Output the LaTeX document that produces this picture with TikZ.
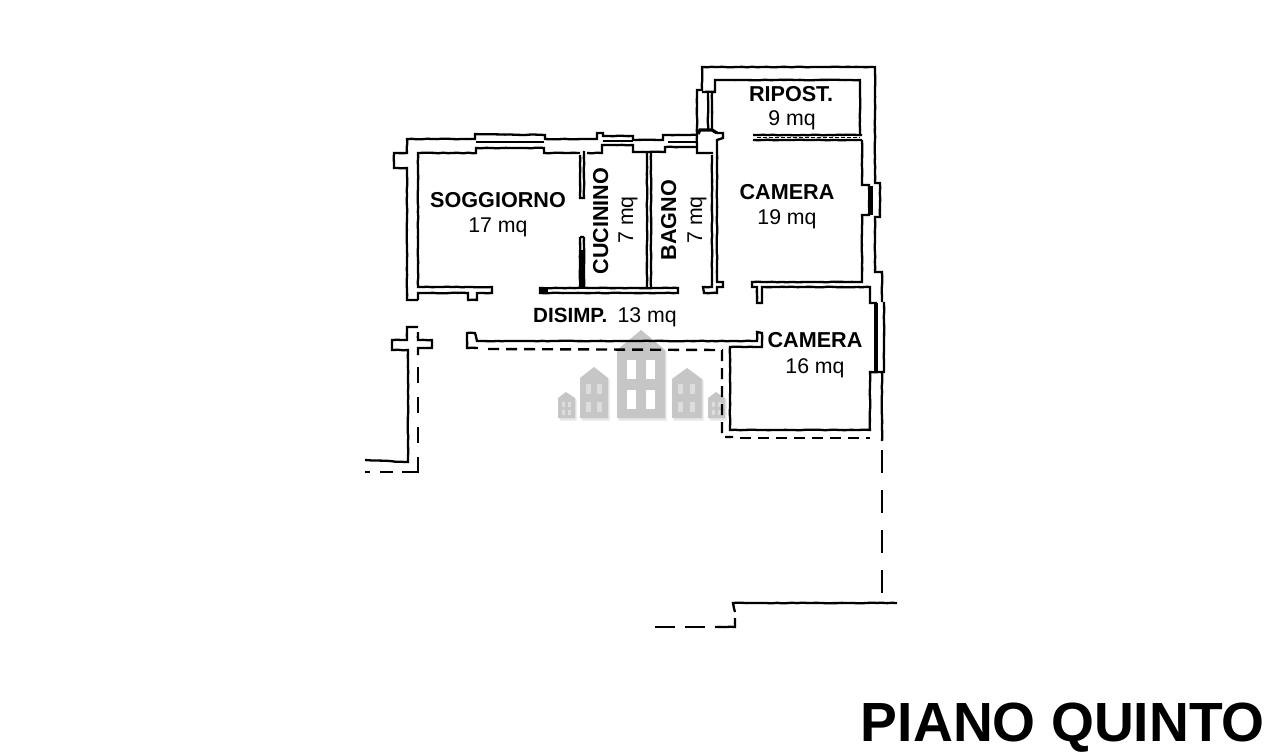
\documentclass[tikz,border=0pt]{standalone}
\usepackage{fontspec}
\setmainfont{Liberation Sans}
\usetikzlibrary{decorations.pathmorphing}
\pgfmathsetseed{7}
\tikzset{
  wall/.style={draw=black,line width=2.3pt,line join=miter,decorate,decoration={random steps,segment length=5pt,amplitude=0.3pt,pre length=0pt,post length=0pt}},
  thin wall/.style={draw=black,line width=1.4pt},
  heavy wall/.style={draw=black,line width=3.2pt},
  dash wall/.style={draw=black,line width=2.4pt,dash pattern=on 11pt off 7pt},
  house/.style={fill=wmgray,draw=none},
  houseshadow/.style={fill=wmshadow,draw=none},
  win/.style={fill=white,draw=none},
  winsmall/.style={fill=wmlight,draw=none},
  lab/.style={inner sep=0pt,anchor=base,font=\fontsize{21.3}{21}\selectfont},
  labb/.style={inner sep=0pt,anchor=base,font=\fontsize{21.6}{21}\selectfont\bfseries},
  title/.style={inner sep=0pt,anchor=base east,font=\fontsize{55.2}{55}\selectfont\bfseries}
}
\definecolor{wmgray}{HTML}{C6C6C6}
\definecolor{wmshadow}{HTML}{E6E6E6}
\definecolor{wmlight}{HTML}{DDDDDD}
\begin{document}
\begin{tikzpicture}[x=1pt,y=-1pt]
\useasboundingbox (0,0) rectangle (1280,755);
\fill[white] (0,0) rectangle (1280,755);
% watermark
\foreach \a/\b/\c/\t/\s in {558/575/566/392/398, 580/608/594/367/378, 617/665/641/330/350, 672/702/687/368/379, 708/725/716/392/398}{
  \fill[houseshadow] (\a+1.5,420.5) -- (\a+1.5,\s+1.5) -- (\c+1.5,\t+1.5) -- (\b+1.5,\s+1.5) -- (\b+1.5,420.5) -- cycle;
  \fill[house] (\a,418) -- (\a,\s) -- (\c,\t) -- (\b,\s) -- (\b,418) -- cycle;
}
\foreach \x/\y in {627/360,646/360,627/390,646/390}{\fill[win] (\x,\y) rectangle ++(9,19);}
\foreach \x/\y in {586/384,597/384,586/402,597/402,678/384,690/384,678/402,690/402}{\fill[winsmall] (\x,\y) rectangle ++(5,10);}
\foreach \x/\y in {562/402,568/402,562/410,568/410,712/402,718/402,712/410,718/410}{\fill[winsmall] (\x,\y) rectangle ++(3,5);}
% soggiorno outer
\draw[wall] (418,300) -- (407,300) -- (407,168) -- (394,168) -- (394,153) -- (407,153) -- (407,139) -- (475,139) -- (475,134) -- (545,135) -- (545,139) -- (597,139) -- (597,133) -- (603,133) -- (603,136) -- (633,136) -- (633,140) -- (663,140) -- (663,135) -- (668,135) -- (697,135);
% soggiorno inner
\draw[wall] (418,300) -- (418,293) -- (468,293) -- (468,300) -- (477,300) -- (477,293) -- (492,293) -- (492,287) -- (418,287) -- (418,153) -- (476,153) -- (476,148) -- (544,148) -- (544,153) -- (580,153);
% windows
\draw[thin wall] (476,142) -- (544,142);
\draw[thin wall] (603,141) -- (633,141);
\draw[thin wall] (668,142) -- (697,142);
% kitchen top / bath top
\draw[wall] (587,153) -- (602,153) -- (602,145) -- (633,145) -- (633,152) -- (665,152) -- (665,147) -- (697,147);
\draw[wall] (697,135) -- (697,153) -- (713,153);
% kitchen stub walls
\draw[wall] (580,155) rectangle (584,198);
\draw[wall] (580,237) -- (580,287) (584,237) -- (584,287) (580,237) -- (584,237);
\fill (580,250) rectangle (584,287);
% corridor wall
\draw[wall] (540,288) -- (678,288) -- (678,293) -- (540,293) -- cycle;
\draw[heavy wall] (541,290.5) -- (548,290.5);
% bagno walls
\draw[wall] (647,153) -- (647,287) (651,153) -- (651,287);
\draw[wall] (712,155) -- (712,287) -- (703,287) -- (704,293) -- (717,293) -- (717,287) -- (723,287) -- (723,282) -- (717,282) -- (717,150) -- (717,140) -- (723,138) -- (723,133) -- (717,133);
% pier top
\draw[heavy wall] (698,134) -- (700,130) -- (712,130) -- (717,133);
% ripost window, left
\draw[wall] (697,135) -- (697,90) -- (702,90) -- (702,67) -- (875,67) -- (875,183) -- (880,183) -- (880,217) -- (875,217) -- (875,272) -- (882,272) -- (882,302);
\draw[wall] (708,92) -- (708,130) (712,92) -- (712,130);
\draw[wall] (702,92) -- (715,92) -- (715,80) -- (860,80) -- (860,135);
% partition
\draw[wall] (753,135) -- (862,135) (753,140) -- (862,140);
\draw[thin wall,dash pattern=on 4pt off 2pt] (757,137.5) -- (860,137.5);
% camera 19
\draw[wall] (862,140) -- (862,185) -- (869,185) -- (869,215) -- (862,215) -- (862,282) -- (752,282) -- (752,287) -- (757,287) -- (757,303) -- (762,303) -- (762,287) -- (870,287) -- (870,303) -- (877,303);
\draw[heavy wall] (871,186) -- (871,215);
% camera 16 window
\draw[heavy wall] (876,303) -- (876,372);
\draw[wall] (884,302) -- (884,372) -- (870,372) -- (870,430) -- (730,430) -- (730,347) -- (762,347) -- (762,333) -- (757,332) -- (757,341) -- (477,341) -- (475,333) -- (467,333) -- (467,348) -- (478,348);
% dashed outlines
\draw[dash wall] (488,349) -- (722,350) -- (722,437) -- (733,437);
\draw[dash wall] (740,438) -- (870,438);
\draw[wall] (882,372) -- (882,441);
\draw[dash wall,dash pattern=on 23pt off 17pt,dash phase=0pt] (882,450) -- (882,603);
\draw[wall] (897,603) -- (733,603) -- (735,612);
\draw[wall] (735,618) -- (735,627) -- (715,627);
\draw[line width=1.8pt,dash pattern=on 20pt off 10pt] (705,627) -- (655,627);
% left fragment
\draw[wall] (365,460) -- (408,462) -- (408,350) -- (392,350) -- (392,340) -- (407,340) -- (407,327) -- (418,327);
\draw[wall] (418,332) -- (418,340) -- (432,340) -- (432,348) -- (418,348) -- (418,355);
\draw[dash wall,dash pattern=on 16pt off 14pt] (418,367) -- (418,472);
\draw[line width=2.4pt] (418,466) -- (418,472) -- (402,472);
\draw[line width=1.8pt] (393,472) -- (380,472) (370,472) -- (365,472);
% labels
\node[labb] (soggiorno) at (498,207) {SOGGIORNO};
\node[lab] (s17) at (498,232) {17 mq};
\node[labb,rotate=90] (cucinino) at (608,221) {CUCININO};
\node[lab,rotate=90] (c7) at (633,220) {7 mq};
\node[labb,rotate=90] (bagno) at (676,220) {BAGNO};
\node[lab,rotate=90] (b7) at (702,220) {7 mq};
\node[labb] (ripost) at (791,101) {RIPOST.};
\node[lab] (r9) at (792,125) {9 mq};
\node[labb] (cam1) at (787,199) {CAMERA};
\node[lab] (c19) at (787,224) {19 mq};
\node[labb] (cam2) at (815,347) {CAMERA};
\node[lab] (c16) at (815,373) {16 mq};
\node[inner sep=0pt,anchor=base west,font=\fontsize{20.6}{20}\selectfont\bfseries] (dis) at (533,322) {DISIMP.};
\node[inner sep=0pt,anchor=base east,font=\fontsize{21.3}{20}\selectfont] (dis13) at (677,322) {13 mq};
\node[title] (piano) at (1265,741) {PIANO QUINTO};
\end{tikzpicture}
\end{document}
